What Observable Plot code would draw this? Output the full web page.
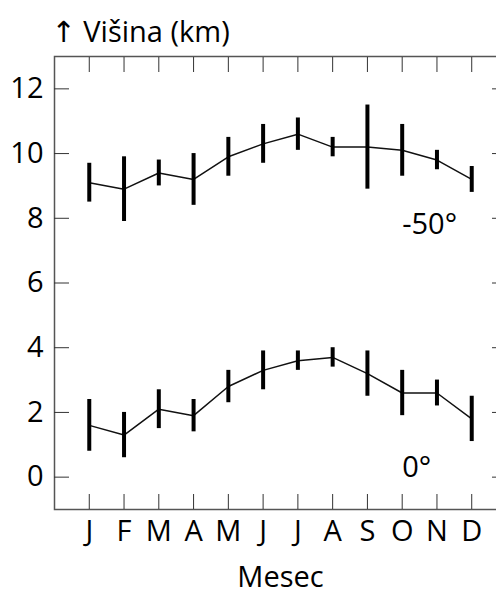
<!DOCTYPE html>
<html>
<head>
<meta charset="utf-8">
<script src="https://cdn.jsdelivr.net/npm/d3@7"></script>
<script src="https://cdn.jsdelivr.net/npm/@observablehq/plot@0.6"></script>
<style>
html, body { margin: 0; padding: 0; overflow: hidden; background: #fff; }
</style>
</head>
<body>
<div id="chart"></div>
<script>
// Month tick labels and positions (1..12)
const months = ["J", "F", "M", "A", "M", "J", "J", "A", "S", "O", "N", "D"];
const monthIndex = [1, 2, 3, 4, 5, 6, 7, 8, 9, 10, 11, 12];
const yTicks = [0, 2, 4, 6, 8, 10, 12];

// Series at -50° latitude
const lat50 = [9.1, 8.9, 9.4, 9.2, 9.9, 10.3, 10.6, 10.2, 10.2, 10.1, 9.8, 9.2];
const lat50Err = [0.6, 1.0, 0.4, 0.8, 0.6, 0.6, 0.5, 0.3, 1.3, 0.8, 0.3, 0.4];
// Series at 0° latitude
const lat0 = [1.6, 1.3, 2.1, 1.9, 2.8, 3.3, 3.6, 3.7, 3.2, 2.6, 2.6, 1.8];
const lat0Err = [0.8, 0.7, 0.6, 0.5, 0.5, 0.6, 0.3, 0.3, 0.7, 0.7, 0.4, 0.7];

// Series labels
const seriesLabels = ["-50°", "0°"];
const labelMonth = [10, 10];
const labelValue = [7.8, 0.3];

const yTitle = "↑ Višina (km)";
const xTitle = "Mesec";

const rows = [];
monthIndex.forEach((m, i) => {
  rows.push({series: "-50", m, v: lat50[i], e: lat50Err[i]});
});
monthIndex.forEach((m, i) => {
  rows.push({series: "0", m, v: lat0[i], e: lat0Err[i]});
});
const labels = seriesLabels.map((t, i) => ({t, m: labelMonth[i], y: labelValue[i]}));

const FONT = "'Open Sans', 'DejaVu Sans', sans-serif";
const FS = 29;

const plot = Plot.plot({
  width: 510,
  height: 594,
  marginLeft: 54,
  marginRight: 4,
  marginTop: 56,
  marginBottom: 85,
  style: {fontFamily: FONT, fontSize: FS + "px", fontWeight: 400, color: "#000", maxWidth: "none", overflow: "visible", background: "#fff"},
  x: {domain: [0, 13], ticks: monthIndex, tickFormat: (i) => months[i - 1]},
  y: {domain: [-1, 13], ticks: yTicks},
  marks: [
    Plot.frame({stroke: "#555", strokeWidth: 1.5}),
    // inward ticks on all four sides
    Plot.axisY({anchor: "left", ticks: yTicks, tickSize: -15, tickFormat: () => "", label: null, stroke: "#333"}),
    Plot.axisY({anchor: "right", ticks: yTicks, tickSize: -15, tickFormat: () => "", label: null, stroke: "#333"}),
    Plot.axisX({anchor: "top", ticks: monthIndex, tickSize: -15, tickFormat: () => "", label: null, stroke: "#333"}),
    Plot.axisX({anchor: "bottom", ticks: monthIndex, tickSize: -15, tickFormat: () => "", label: null, stroke: "#333"}),
    // tick labels
    Plot.axisY({anchor: "left", ticks: yTicks, tickSize: 0, tickPadding: 11, label: null, fill: "#000", fontSize: FS}),
    Plot.axisX({anchor: "bottom", ticks: monthIndex, tickSize: 0, tickPadding: 11, label: null, fill: "#000", fontSize: FS,
      tickFormat: (i) => months[i - 1]}),
    // data
    Plot.line(rows, {x: "m", y: "v", z: "series", stroke: "#111", strokeWidth: 1.5}),
    Plot.ruleX(rows, {x: "m", y1: (d) => d.v - d.e, y2: (d) => d.v + d.e, stroke: "#000", strokeWidth: 4}),
    Plot.text(labels, {x: "m", y: "y", text: "t", textAnchor: "start", fontSize: FS, fill: "#000"}),
    // titles
    Plot.text([yTitle], {text: (d) => d, frameAnchor: "top-left", textAnchor: "start", lineAnchor: "middle", dx: -3, dy: -24, fontSize: FS, fill: "#000"}),
    Plot.text([xTitle], {text: (d) => d, frameAnchor: "bottom", lineAnchor: "middle", dy: 68, fontSize: FS, fill: "#000"})
  ]
});
document.getElementById("chart").append(plot);
</script>
</body>
</html>
